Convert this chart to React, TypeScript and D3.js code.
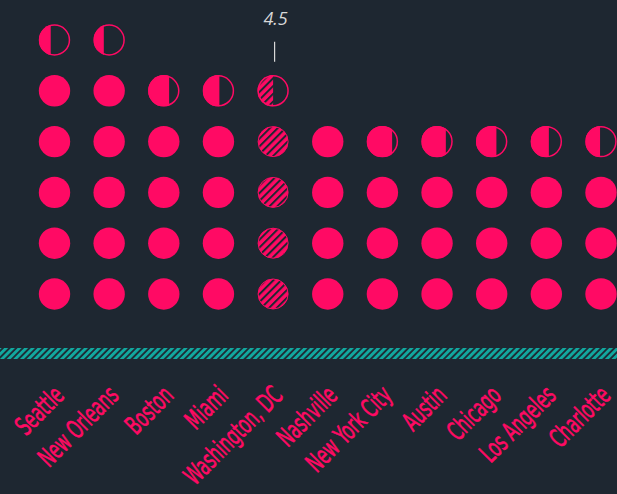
import React, { useEffect, useRef } from 'react';
import * as d3 from 'd3';

const cities = ['Seattle', 'New Orleans', 'Boston', 'Miami', 'Washington, DC', 'Nashville', 'New York City', 'Austin', 'Chicago', 'Los Angeles', 'Charlotte'];
const values = [5.38, 5.33, 4.67, 4.53, 4.5, 4.0, 3.81, 3.78, 3.65, 3.58, 3.47];
const highlight = 'Washington, DC';
const highlightLabel = '4.5';

const BG = '#1e2731';
const PINK = '#ff0a64';
const TEAL = '#12a89f';

export default function App() {
  const svgRef = useRef<SVGSVGElement>(null);

  useEffect(() => {
    document.body.style.margin = '0';
    document.body.style.background = BG;
    const width = 617;
    const height = 494;
    const svg = d3.select(svgRef.current).attr('width', width).attr('height', height);
    svg.selectAll('*').remove();

    svg.append('rect').attr('width', width).attr('height', height).attr('fill', BG);

    const defs = svg.append('defs');
    // hatch for highlighted city
    const hp = defs.append('pattern').attr('id', 'hatchPink').attr('patternUnits', 'userSpaceOnUse')
      .attr('width', 5.5).attr('height', 5.5).attr('patternTransform', 'rotate(45)');
    hp.append('rect').attr('width', 5.5).attr('height', 5.5).attr('fill', PINK);
    hp.append('rect').attr('width', 2).attr('height', 5.5).attr('fill', BG);
    // hatch for baseline band
    const tp = defs.append('pattern').attr('id', 'hatchTeal').attr('patternUnits', 'userSpaceOnUse')
      .attr('width', 4.7).attr('height', 4.7).attr('patternTransform', 'rotate(45)');
    tp.append('rect').attr('width', 4.7).attr('height', 4.7).attr('fill', BG);
    tp.append('rect').attr('width', 2.9).attr('height', 4.7).attr('fill', TEAL);

    const x = d3.scalePoint<string>().domain(cities).range([54.5, 601]);
    const y = d3.scaleLinear().domain([0, 5]).range([294, 40]);
    const r = 15.7;

    const g = svg.append('g');
    cities.forEach((c, ci) => {
      const v = values[ci];
      const hl = c === highlight;
      const fill = hl ? 'url(#hatchPink)' : PINK;
      const n = Math.ceil(v);
      for (let i = 0; i < n; i++) {
        const f = Math.max(0, Math.min(1, v - i));
        const cx = x(c)!;
        const cy = y(i);
        if (f >= 0.999) {
          g.append('circle').attr('cx', cx).attr('cy', cy).attr('r', hl ? r - 0.7 : r).attr('fill', fill);
          if (hl) {
            g.append('circle').attr('cx', cx).attr('cy', cy).attr('r', r - 0.7).attr('fill', 'none')
              .attr('stroke', PINK).attr('stroke-width', 1);
          }
        } else {
          const id = `clip-${ci}-${i}`;
          defs.append('clipPath').attr('id', id).append('rect')
            .attr('x', cx - r).attr('y', cy - r).attr('width', 2 * r * f).attr('height', 2 * r);
          g.append('circle').attr('cx', cx).attr('cy', cy).attr('r', r).attr('fill', fill)
            .attr('clip-path', `url(#${id})`);
          g.append('circle').attr('cx', cx).attr('cy', cy).attr('r', r - 0.75).attr('fill', 'none')
            .attr('stroke', PINK).attr('stroke-width', 1.5);
        }
      }
    });

    // annotation
    const hv = values[cities.indexOf(highlight)];
    const ax = x(highlight)! + 1.5;
    const topY = y(Math.ceil(hv) - 1);
    svg.append('line').attr('x1', ax).attr('x2', ax).attr('y1', topY - 49).attr('y2', topY - 29)
      .attr('stroke', '#d8d8d8').attr('stroke-width', 1.2);
    svg.append('text').attr('x', ax + 1).attr('y', topY - 66).attr('text-anchor', 'middle')
      .attr('fill', '#d8d8d8').attr('font-size', 18).attr('font-style', 'italic')
      .attr('font-family', '"Open Sans", sans-serif').text(highlightLabel);

    // baseline band
    svg.append('rect').attr('x', 0).attr('y', 348).attr('width', width).attr('height', 11)
      .attr('fill', 'url(#hatchTeal)');

    // labels
    svg.append('g').selectAll('text').data(cities).join('text')
      .attr('transform', d => `translate(${x(d)! + 11},${397}) rotate(-45) scale(0.88,1.3)`)
      .attr('text-anchor', 'end')
      .attr('fill', PINK)
      .attr('stroke', PINK)
      .attr('stroke-width', 0.5)
      .attr('font-size', 20)
      .attr('font-family', '"Liberation Sans Narrow", "DejaVu Sans Condensed", sans-serif')
      .text(d => d);
  }, []);

  return <svg ref={svgRef} style={{ display: 'block' }} />;
}
